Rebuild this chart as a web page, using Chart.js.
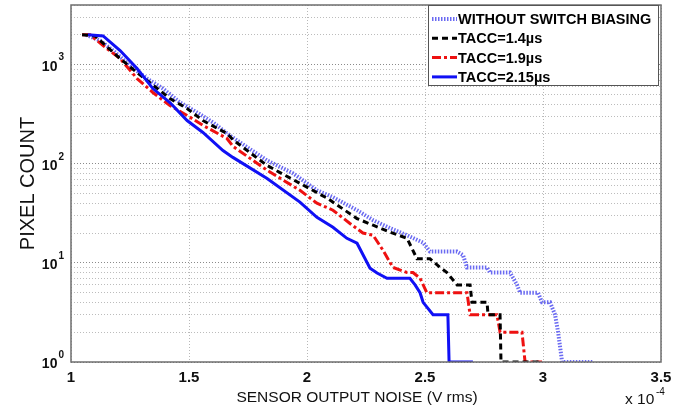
<!DOCTYPE html>
<html>
<head>
<meta charset="utf-8">
<script src="https://cdn.jsdelivr.net/npm/chart.js"></script>
<style>
  html, body { margin: 0; padding: 0; background: #fff; }
  #wrap { width: 686px; height: 411px; }
</style>
</head>
<body>
<div id="wrap"><canvas id="noiseChart" width="686" height="411"></canvas></div>
<script>
// series labels
const seriesNames = ['WITHOUT SWITCH BIASING', 'TACC=1.4\u00b5s', 'TACC=1.9\u00b5s', 'TACC=2.15\u00b5s'];

// noise in units of 1e-4 V rms, counts of pixels above that noise
const noBiasX = [1.064, 1.123, 1.178, 1.25, 1.322, 1.39, 1.462, 1.534, 1.602, 1.674, 1.75, 1.831, 1.941, 2.042, 2.11, 2.212, 2.28, 2.352, 2.424, 2.492, 2.521, 2.636, 2.661, 2.678, 2.763, 2.775, 2.86, 2.89, 2.903, 2.979, 2.996, 3.03, 3.051, 3.064, 3.081, 3.212];
const noBiasY = [2000, 1750, 1387, 980, 724, 574, 415, 330, 261, 192, 145, 108, 80, 54, 46, 34, 27, 22.4, 19, 16, 13, 13, 12, 9, 9, 8, 8, 6, 5, 5, 4, 4, 3, 2, 1, 1];

const tacc14X = [1.047, 1.102, 1.208, 1.28, 1.419, 1.492, 1.559, 1.661, 1.686, 1.831, 1.97, 2.085, 2.212, 2.28, 2.352, 2.424, 2.466, 2.521, 2.564, 2.593, 2.636, 2.691, 2.699, 2.763, 2.767, 2.818, 2.822, 2.996];
const tacc14Y = [2000, 1950, 1152, 832, 456, 361, 273, 202, 175, 96, 63.5, 45, 28, 24, 20.4, 17.7, 11, 11, 9, 8, 6, 6, 4, 4, 3, 3, 1, 1];

const tacc19X = [1.047, 1.081, 1.136, 1.208, 1.28, 1.347, 1.419, 1.492, 1.559, 1.661, 1.686, 1.831, 1.97, 2.042, 2.11, 2.182, 2.237, 2.28, 2.322, 2.364, 2.424, 2.449, 2.479, 2.508, 2.678, 2.691, 2.805, 2.818, 2.911, 2.924, 2.996];
const tacc19Y = [2000, 2000, 1557, 1152, 724, 524, 387, 307, 244, 180, 150, 86, 54, 40, 34, 25, 20, 19, 13.4, 9, 8, 8, 7, 5, 5, 3, 3, 2, 2, 1, 1];

const tacc215X = [1.072, 1.136, 1.208, 1.28, 1.347, 1.419, 1.492, 1.559, 1.644, 1.686, 1.831, 1.97, 2.042, 2.11, 2.169, 2.212, 2.267, 2.297, 2.339, 2.436, 2.458, 2.479, 2.492, 2.534, 2.597, 2.602, 2.703];
const tacc215Y = [2000, 1950, 1387, 914, 574, 415, 273, 207, 136, 116, 71, 41, 28.8, 22.9, 17.7, 15.8, 8.85, 7.9, 7, 7, 6, 5, 4, 3, 3, 1, 1];

// axis ticks
const xTicks = [1, 1.5, 2, 2.5, 3, 3.5];
const yTicks = [1, 2, 3, 4, 5, 6, 7, 8, 9, 10, 20, 30, 40, 50, 60, 70, 80, 90,
                100, 200, 300, 400, 500, 600, 700, 800, 900, 1000, 2000, 3000, 4000];
const yDecades = [0, 1, 2, 3];
const xTitle = 'SENSOR OUTPUT NOISE (V rms)';

const FONT = '"Liberation Sans", Arial, sans-serif';

function toPoints(xs, ys) {
  return xs.map((x, i) => ({ x: x, y: ys[i] }));
}

// frame, decade labels, x title, exponent note and the legend inside the plot
const matlabLook = {
  id: 'matlabLook',
  afterDraw(chart) {
    const ctx = chart.ctx;
    const area = chart.chartArea;
    const yScale = chart.scales.y;
    ctx.save();

    ctx.strokeStyle = '#6e6e6e';
    ctx.lineWidth = 1.5;
    ctx.strokeRect(area.left, area.top, area.right - area.left, area.bottom - area.top);

    ctx.fillStyle = '#111';
    ctx.textBaseline = 'middle';
    yDecades.forEach(p => {
      const py = yScale.getPixelForValue(Math.pow(10, p));
      ctx.font = 'bold 10px ' + FONT;
      ctx.textAlign = 'left';
      const expW = ctx.measureText(String(p)).width;
      ctx.fillText(String(p), area.left - 7 - expW, py - 7);
      ctx.font = 'bold 14px ' + FONT;
      ctx.textAlign = 'right';
      ctx.fillText('10', area.left - 8 - expW, py + 2);
    });

    // x axis title sits a little left of the plot centre in the original
    ctx.font = '15.5px ' + FONT;
    ctx.textAlign = 'center';
    ctx.fillText(xTitle, 357, 398);

    // "x 10^-4" note under the right end of the x axis
    ctx.textAlign = 'left';
    ctx.fillText('x 10', area.right - 36, 400);
    ctx.font = '10px ' + FONT;
    ctx.fillText('-4', area.right - 5, 392);

    // legend box
    const lx = 428, ly = area.top, lw = area.right - 3 - 428, lh = 80;
    ctx.fillStyle = '#fff';
    ctx.fillRect(lx, ly, lw, lh);
    ctx.strokeStyle = '#555';
    ctx.lineWidth = 1;
    ctx.strokeRect(lx + 0.5, ly + 0.5, lw, lh);
    chart.data.datasets.forEach((ds, i) => {
      const cy = ly + 14 + i * 19.3;
      ctx.save();
      ctx.strokeStyle = ds.borderColor;
      ctx.lineWidth = ds.borderWidth;
      ctx.setLineDash(ds.borderDash || []);
      ctx.beginPath();
      ctx.moveTo(lx + 4, cy);
      ctx.lineTo(lx + 29, cy);
      ctx.stroke();
      ctx.restore();
      ctx.fillStyle = '#000';
      ctx.font = 'bold 14.5px ' + FONT;
      ctx.textAlign = 'left';
      ctx.fillText(ds.label, lx + 30, cy + 1);
    });
    ctx.restore();
  }
};

const ctx = document.getElementById('noiseChart').getContext('2d');
const noiseChart = new Chart(ctx, {
  type: 'scatter',
  data: {
    datasets: [
      { label: seriesNames[0], data: toPoints(noBiasX, noBiasY), borderColor: '#6a6af2',
        borderWidth: 4, borderDash: [1.5, 1.5], order: 4 },
      { label: seriesNames[1], data: toPoints(tacc14X, tacc14Y), borderColor: '#000000',
        borderWidth: 3, borderDash: [6, 4], order: 2 },
      { label: seriesNames[2], data: toPoints(tacc19X, tacc19Y), borderColor: '#ee1111',
        borderWidth: 3, borderDash: [9, 3, 3, 3], order: 3 },
      { label: seriesNames[3], data: toPoints(tacc215X, tacc215Y), borderColor: '#1010f5',
        borderWidth: 3, order: 1 }
    ]
  },
  options: {
    responsive: false,
    animation: false,
    devicePixelRatio: 1,
    showLine: true,
    elements: { point: { radius: 0 }, line: { tension: 0, fill: false } },
    layout: { padding: { left: 0, top: 5, right: 25, bottom: 0 } },
    plugins: { legend: { display: false }, tooltip: { enabled: false } },
    scales: {
      x: {
        type: 'linear',
        min: 1,
        max: 3.5,
        afterFit: (scale) => { scale.height = 49; },
        afterBuildTicks: (scale) => { scale.ticks = xTicks.map(v => ({ value: v })); },
        ticks: {
          color: '#111',
          padding: 7,
          font: { family: FONT, size: 15, weight: 'bold' },
          callback: (v) => String(v)
        },
        grid: { color: '#b8b8b8', lineWidth: 1, drawTicks: false },
        border: { display: false, dash: [1, 2] },
        title: { display: false }
      },
      y: {
        type: 'logarithmic',
        min: 1,
        max: 4000,
        afterFit: (scale) => { scale.width = 71; },
        afterBuildTicks: (scale) => { scale.ticks = yTicks.map(v => ({ value: v })); },
        ticks: { display: false },
        grid: {
          color: (c) => yDecades.includes(Math.round(Math.log10(c.tick.value) * 1000) / 1000) ? '#8a8a8a' : '#bcbcbc',
          lineWidth: 1,
          drawTicks: false
        },
        border: { display: false, dash: [1, 2] },
        title: {
          display: true,
          text: 'PIXEL COUNT',
          color: '#111',
          font: { family: FONT, size: 20 },
          padding: { top: 16, bottom: 0 }
        }
      }
    }
  },
  plugins: [matlabLook]
});
</script>
</body>
</html>
